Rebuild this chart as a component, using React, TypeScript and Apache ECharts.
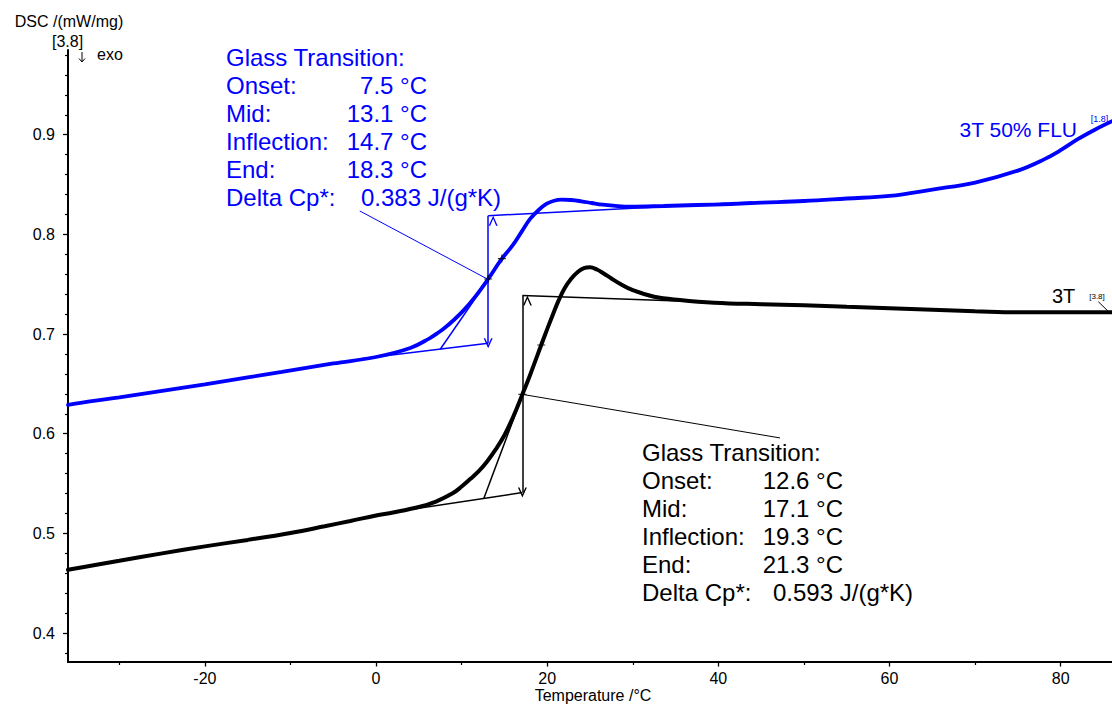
import React, { useEffect, useRef } from "react";
import * as echarts from "echarts";

const FONT = '"Liberation Sans", Arial, Helvetica, sans-serif';
const BLUE = "#0000ff";
const BLACK = "#000000";

// Axis ticks
const X_MAJOR = [-20, 0, 20, 40, 60, 80];
const X_MINOR = [-30, -10, 10, 30, 50, 70];
const Y_MAJOR = [0.4, 0.5, 0.6, 0.7, 0.8, 0.9];
const Y_MINOR = [0.38, 0.42, 0.44, 0.46, 0.48, 0.52, 0.54, 0.56, 0.58, 0.62, 0.64, 0.66, 0.68, 0.72, 0.74, 0.76, 0.78, 0.82, 0.84, 0.86, 0.88, 0.92, 0.94, 0.96, 0.98];

// 3T 50% FLU (blue)
const BLUE_T = [-36, -33, -30, -25, -20, -15, -11, -5, 0, 4, 6.3, 7.1, 8, 9, 10.2, 11.5, 13.1, 14.6, 16, 17, 18, 19, 19.9, 20.8, 21.7, 22.8, 24, 25.2, 26.5, 27.7, 29.7, 33.6, 37.5, 41.4, 45, 50, 55, 60, 65, 70, 75, 78, 80, 82, 84, 86];
const BLUE_DSC = [0.629, 0.633, 0.6365, 0.643, 0.6495, 0.6565, 0.662, 0.6705, 0.677, 0.686, 0.696, 0.7005, 0.706, 0.7135, 0.7235, 0.7365, 0.7553, 0.7744, 0.7895, 0.8025, 0.8155, 0.8245, 0.8305, 0.8338, 0.8348, 0.8345, 0.8332, 0.8315, 0.8298, 0.8288, 0.8278, 0.8285, 0.8295, 0.8305, 0.8318, 0.8335, 0.836, 0.8386, 0.845, 0.852, 0.864, 0.875, 0.8845, 0.8955, 0.905, 0.9135];

// 3T (black)
const BLACK_T = [-36, -33, -30, -25, -20, -15, -10, -6, -3, 0, 2, 5, 7, 9, 10, 11, 12, 13, 14, 15, 16, 17.1, 18, 19.3, 20, 20.7, 21.3, 22, 22.8, 23.6, 24.3, 25, 25.8, 26.6, 27.5, 28.5, 30, 32.5, 35.5, 39.5, 45, 50, 55, 60, 65, 70, 75, 80, 86];
const BLACK_DSC = [0.4635, 0.468, 0.4725, 0.48, 0.487, 0.4935, 0.5005, 0.5072, 0.5125, 0.518, 0.521, 0.5265, 0.532, 0.5405, 0.547, 0.5545, 0.5625, 0.5725, 0.5845, 0.5985, 0.6165, 0.6395, 0.659, 0.689, 0.705, 0.7205, 0.733, 0.7455, 0.7555, 0.7625, 0.7662, 0.767, 0.7648, 0.7608, 0.7558, 0.7505, 0.744, 0.7375, 0.7342, 0.7315, 0.73, 0.729, 0.7275, 0.726, 0.7245, 0.723, 0.7218, 0.7218, 0.722];

// Glass transition evaluation constructions (data coordinates)
const BLUE_BASE_LOW = [[-2, 0.675], [13.1, 0.6908]];
const BLUE_BASE_HIGH = [[13.1, 0.8188], [44, 0.8324]];
const BLUE_TANGENT = [[7.5, 0.6848], [18.3, 0.8192]];
const BLUE_LEADER = [[-1.9, 0.8235], [13.1, 0.7548]];
const BLUE_STEP = [[13.1, 0.6908], [13.1, 0.8188]];
const BLUE_MARKS = [[13.1, 0.7553], [14.7, 0.7757]];

const BLACK_BASE_LOW = [[0, 0.5188], [17.1, 0.541]];
const BLACK_BASE_HIGH = [[17.1, 0.7386], [42, 0.7311]];
const BLACK_TANGENT = [[12.6, 0.5352], [21.3, 0.735]];
const BLACK_LEADER = [[47.2, 0.5958], [17.1, 0.6395]];
const BLACK_STEP = [[17.1, 0.541], [17.1, 0.7386]];
const BLACK_MARKS = [[17.1, 0.6395], [19.3, 0.689]];
const BLACK_END_TICK = [[84.4, 0.7325], [85.6, 0.7225]];

// Result texts
const BLUE_ROWS = [
  ["Onset:", "7.5 °C"],
  ["Mid:", "13.1 °C"],
  ["Inflection:", "14.7 °C"],
  ["End:", "18.3 °C"],
];
const BLUE_DELTA = ["Delta Cp*:", "0.383 J/(g*K)"];
const BLACK_ROWS = [
  ["Onset:", "12.6 °C"],
  ["Mid:", "17.1 °C"],
  ["Inflection:", "19.3 °C"],
  ["End:", "21.3 °C"],
];
const BLACK_DELTA = ["Delta Cp*:", "0.593 J/(g*K)"];

const CHEV = "path://M5,0L10,10L8.3,10L5,3.2L1.7,10L0,10Z";
const PLUS = "path://M4.3,0H5.7V4.3H10V5.7H5.7V10H4.3V5.7H0V4.3H4.3Z";

function zip(t: number[], v: number[]) {
  return t.map((x, i) => [x, v[i]]);
}

function txt(x: number, y: number, text: string, size: number, color: string, align = "left") {
  return {
    type: "text",
    x,
    y,
    z: 100,
    silent: true,
    style: {
      text,
      fill: color,
      font: `${size}px ${FONT}`,
      fontSize: size,
      fontFamily: FONT,
      align,
      textAlign: align,
      verticalAlign: "middle",
      textVerticalAlign: "middle",
    },
  };
}

function block(x0: number, y0: number, rows: string[][], delta: string[], deltaOff: number, color: string) {
  const els: any[] = [txt(x0, y0, "Glass Transition:", 24, color)];
  rows.forEach((r, i) => {
    const y = y0 + 28 * (i + 1);
    els.push(txt(x0, y, r[0], 24, color));
    els.push(txt(x0 + 201, y, r[1], 24, color, "right"));
  });
  const yd = y0 + 28 * (rows.length + 1);
  els.push(txt(x0, yd, delta[0], 24, color));
  els.push(txt(x0 + deltaOff, yd, delta[1], 24, color));
  return els;
}

function thin(data: number[][], color: string, width = 1.5) {
  return {
    type: "line",
    data,
    symbol: "none",
    silent: true,
    z: 5,
    lineStyle: { color, width },
  };
}

function step(data: number[][], color: string) {
  return {
    type: "line",
    data: [],
    symbol: "none",
    silent: true,
    z: 5,
    markLine: {
      silent: true,
      symbol: [CHEV, CHEV],
      symbolSize: [9, 10],
      symbolOffset: [0, 5],
      label: { show: false },
      lineStyle: { color, width: 1.5, type: "solid" },
      emphasis: { disabled: true },
      data: [[{ coord: data[0] }, { coord: data[1] }]],
    },
  };
}

export default function App() {
  const ref = useRef<HTMLDivElement>(null);
  useEffect(() => {
    document.body.style.margin = "0";
    if (!ref.current) return;
    const chart = echarts.init(ref.current, undefined, { renderer: "svg" });
    const axisCommon = {
      type: "value",
      splitLine: { show: false },
    };
    const option: any = {
      animation: false,
      backgroundColor: "#ffffff",
      grid: { left: 68, right: 0, top: 50, bottom: 42, containLabel: false, outerBoundsMode: "none" },
      xAxis: [
        {
          ...axisCommon,
          min: -36,
          max: 86,
          position: "bottom",
          axisLine: { show: true, onZero: false, lineStyle: { color: BLACK, width: 2 } },
          axisTick: { show: true, length: 4.5, customValues: X_MAJOR, lineStyle: { color: BLACK, width: 1.3 } },
          axisLabel: { customValues: X_MAJOR, color: BLACK, fontSize: 16, fontFamily: FONT, margin: 8, formatter: (v: number) => String(v) },
        },
        {
          ...axisCommon,
          min: -36,
          max: 86,
          position: "bottom",
          axisLine: { show: false, onZero: false },
          axisTick: { show: true, length: 3, customValues: X_MINOR, lineStyle: { color: BLACK, width: 1.2 } },
          axisLabel: { show: false },
        },
      ],
      yAxis: [
        {
          ...axisCommon,
          min: 0.371,
          max: 0.985,
          position: "left",
          axisLine: { show: true, onZero: false, lineStyle: { color: BLACK, width: 2 } },
          axisTick: { show: true, length: 5, customValues: Y_MAJOR, lineStyle: { color: BLACK, width: 1.3 } },
          axisLabel: { customValues: Y_MAJOR, color: BLACK, fontSize: 16, fontFamily: FONT, margin: 13, formatter: (v: number) => v.toFixed(1) },
        },
        {
          ...axisCommon,
          min: 0.371,
          max: 0.985,
          position: "left",
          axisLine: { show: false, onZero: false },
          axisTick: { show: true, length: 3, customValues: Y_MINOR, lineStyle: { color: BLACK, width: 1.2 } },
          axisLabel: { show: false },
        },
      ],
      series: [
        {
          name: "3T 50% FLU",
          type: "line",
          data: zip(BLUE_T, BLUE_DSC),
          symbol: "none",
          smooth: 0.4,
          z: 3,
          lineStyle: { color: BLUE, width: 3.8, cap: "round" },
        },
        {
          name: "3T",
          type: "line",
          data: zip(BLACK_T, BLACK_DSC),
          symbol: "none",
          smooth: 0.4,
          z: 3,
          lineStyle: { color: BLACK, width: 4, cap: "round" },
        },
        thin(BLUE_BASE_LOW, BLUE),
        thin(BLUE_BASE_HIGH, BLUE),
        thin(BLUE_TANGENT, BLUE),
        thin(BLUE_LEADER, BLUE, 1),
        step(BLUE_STEP, BLUE),
        thin(BLACK_BASE_LOW, BLACK),
        thin(BLACK_BASE_HIGH, BLACK),
        thin(BLACK_TANGENT, BLACK),
        thin(BLACK_LEADER, BLACK, 1),
        thin(BLACK_END_TICK, BLACK, 1),
        step(BLACK_STEP, BLACK),
        {
          type: "scatter",
          data: [...BLUE_MARKS, ...BLACK_MARKS],
          symbol: PLUS,
          symbolSize: 8,
          silent: true,
          z: 6,
          itemStyle: { color: BLACK },
        },
      ],
      graphic: [
        txt(69, 21, "DSC /(mW/mg)", 16, BLACK, "center"),
        txt(67.5, 41, "[3.8]", 16, BLACK, "center"),
        txt(97, 54, "exo", 16, BLACK),
        { type: "line", z: 100, silent: true, shape: { x1: 82, y1: 52, x2: 82, y2: 62 }, style: { stroke: BLACK, lineWidth: 1 } },
        { type: "polyline", z: 100, silent: true, shape: { points: [[79, 58.5], [82, 62], [85, 58.5]] }, style: { stroke: BLACK, lineWidth: 1, fill: "none" } },
        txt(593, 695, "Temperature /°C", 16, BLACK, "center"),
        ...block(226, 57, BLUE_ROWS, BLUE_DELTA, 135, BLUE),
        ...block(642, 452, BLACK_ROWS, BLACK_DELTA, 131, BLACK),
        txt(1077, 129, "3T 50% FLU", 21, BLUE, "right"),
        txt(1099.5, 119, "[1.8]", 9, BLUE, "center"),
        txt(1052, 296, "3T", 20, BLACK),
        txt(1097, 296, "[3.8]", 8, BLACK, "center"),
      ],
    };
    chart.setOption(option);
    return () => chart.dispose();
  }, []);
  return <div ref={ref} style={{ width: 1112, height: 704 }} />;
}
